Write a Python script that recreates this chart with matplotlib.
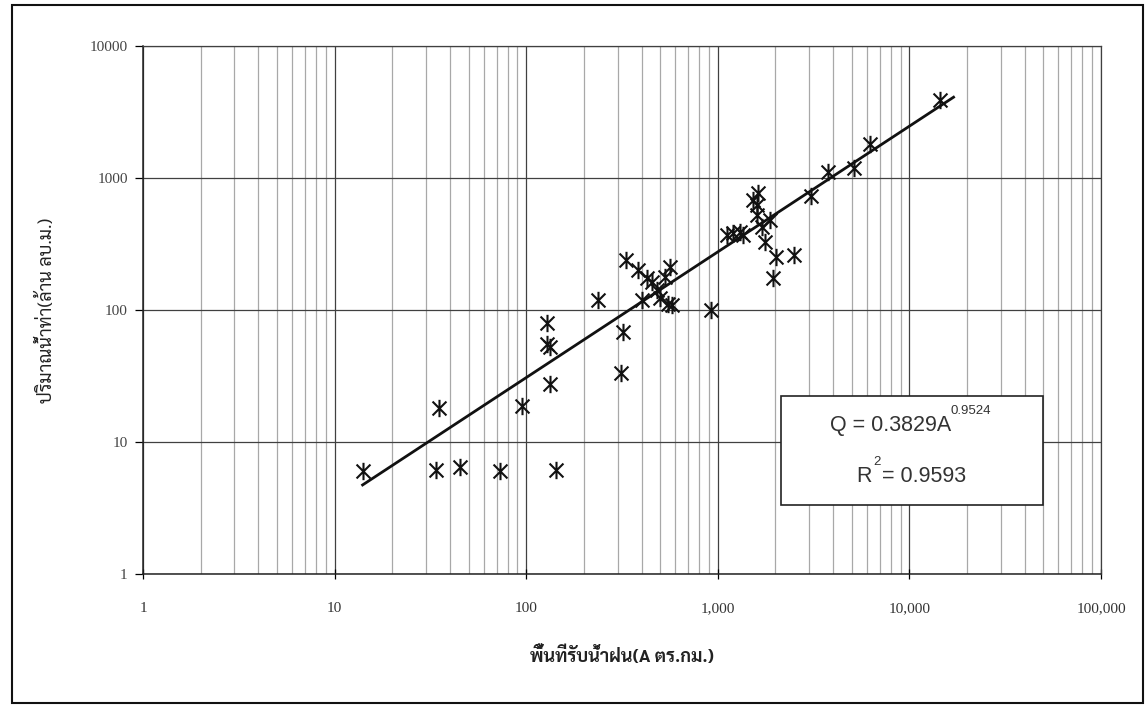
import matplotlib
matplotlib.use("Agg")
import numpy as np
import matplotlib.pyplot as plt
from matplotlib.path import Path
from matplotlib.patches import Rectangle
from matplotlib.ticker import FixedLocator, FixedFormatter, LogLocator, NullFormatter

# ข้อมูล: พื้นที่รับน้ำฝน (ตร.กม.) และปริมาณน้ำท่า (ล้าน ลบ.ม.)
area = [14, 34, 35, 45, 73, 95, 143, 133, 128, 128, 133, 311, 321, 238, 332,
        385, 401, 425, 452, 480, 499, 530, 563, 552, 574, 918, 1113, 1205,
        1306, 1357, 1531, 1626, 1604, 1604, 1872, 1694, 1763, 2013, 2500,
        1932, 3055, 3775, 5140, 6230, 14450]
runoff = [6.0, 6.1, 18.1, 6.5, 6.0, 18.7, 6.1, 27.5, 80, 55, 52, 33.5, 68.5,
          119, 239, 201, 119, 174, 164, 142, 123, 179, 213, 112, 109, 100,
          370, 381, 392, 370, 681, 766, 624, 524, 481, 428, 329, 251, 261,
          174, 731, 1116, 1184, 1800, 3900]

# สมการแนวโน้ม Q = a * A^b
coef_a = 0.3829
coef_b = 0.9524
r2 = 0.9593
fit_range = [14, 17000]

x_ticks = [1, 10, 100, 1000, 10000, 100000]
x_labels = ["1", "10", "100", "1,000", "10,000", "100,000"]
y_ticks = [1, 10, 100, 1000, 10000]
y_labels = ["1", "10", "100", "1000", "10000"]

thai = ['Sarabun', 'Noto Sans Thai', 'DejaVu Sans']

# เครื่องหมายดาวแบบ Excel (เส้นตั้ง + กากบาท)
star = Path([(0, -1), (0, 1), (-0.8, -0.8), (0.8, 0.8), (-0.8, 0.8), (0.8, -0.8)],
            [Path.MOVETO, Path.LINETO, Path.MOVETO, Path.LINETO, Path.MOVETO, Path.LINETO])

fig = plt.figure(figsize=(11.48, 7.08), dpi=100)
ax = fig.add_axes([143 / 1148, 1 - 574 / 708, 958 / 1148, 528 / 708])

ax.set_xscale('log')
ax.set_yscale('log')
ax.set_xlim(1, 100000)
ax.set_ylim(1, 10000)

# เส้นกริด
ax.xaxis.set_minor_locator(LogLocator(base=10, subs=np.arange(2, 10)))
ax.xaxis.set_minor_formatter(NullFormatter())
ax.yaxis.set_minor_locator(FixedLocator([]))
ax.grid(True, which='minor', axis='x', color='#a8a8a8', lw=0.9)
ax.grid(True, which='major', axis='x', color='#404040', lw=0.9)
ax.grid(True, which='major', axis='y', color='#404040', lw=0.9)
ax.set_axisbelow(True)

ax.xaxis.set_major_locator(FixedLocator(x_ticks))
ax.xaxis.set_major_formatter(FixedFormatter(x_labels))
ax.yaxis.set_major_locator(FixedLocator(y_ticks))
ax.yaxis.set_major_formatter(FixedFormatter(y_labels))
ax.tick_params(axis='x', which='major', direction='inout', length=7, width=0.9,
               pad=17, labelsize=11, labelcolor='#333333')
ax.tick_params(axis='x', which='minor', direction='in', length=0)
ax.tick_params(axis='y', which='major', direction='out', length=6, width=0.9,
               pad=5, labelsize=11, labelcolor='#444444')
for lab in ax.get_xticklabels() + ax.get_yticklabels():
    lab.set_family('Liberation Serif')

for s in ['top', 'right']:
    ax.spines[s].set_color('#404040')
    ax.spines[s].set_linewidth(0.9)
for s in ['left', 'bottom']:
    ax.spines[s].set_color('#222222')
    ax.spines[s].set_linewidth(1.1)

# จุดข้อมูล
ax.plot(area, runoff, ls='none', marker=star, ms=12.5, mew=1.5,
        mec='#111111', mfc='none', zorder=4)

# เส้นแนวโน้ม
xf = np.array(fit_range, dtype=float)
ax.plot(xf, coef_a * xf ** coef_b, color='#111111', lw=2.0, zorder=3)

# กล่องสมการ
ax.add_patch(Rectangle((0.666, 0.131), 0.2735, 0.206, transform=ax.transAxes,
                       facecolor='white', edgecolor='#222222', lw=1.2, zorder=5))
eq_style = dict(transform=ax.transAxes, va='center', color='#333333',
                family='Liberation Sans', zorder=6)
ax.text(0.717, 0.282, 'Q = %.4fA' % coef_a, ha='left', fontsize=15.5, **eq_style)
ax.text(0.843, 0.309, '%.4f' % coef_b, ha='left', fontsize=9.5, **eq_style)
ax.text(0.745, 0.184, 'R', ha='left', fontsize=15.5, **eq_style)
ax.text(0.7625, 0.212, '2', ha='left', fontsize=9.5, **eq_style)
ax.text(0.7715, 0.184, '= %.4f' % r2, ha='left', fontsize=15.5, **eq_style)

ax.set_xlabel('พื้นที่รับน้ำฝน(A ตร.กม.)', family=thai, fontsize=13,
              fontweight='bold', color='#222222', labelpad=22)
ax.set_ylabel('ปริมาณน้ำท่า(ล้าน ลบ.ม.)', family=thai, fontsize=13,
              color='#222222', labelpad=24)

# กรอบรอบรูป
fig.add_artist(Rectangle((12 / 1148, 5 / 708), 1131 / 1148, 698 / 708,
                         transform=fig.transFigure, fill=False,
                         edgecolor='#111111', lw=1.5))

fig.savefig('out.png', dpi=100)
